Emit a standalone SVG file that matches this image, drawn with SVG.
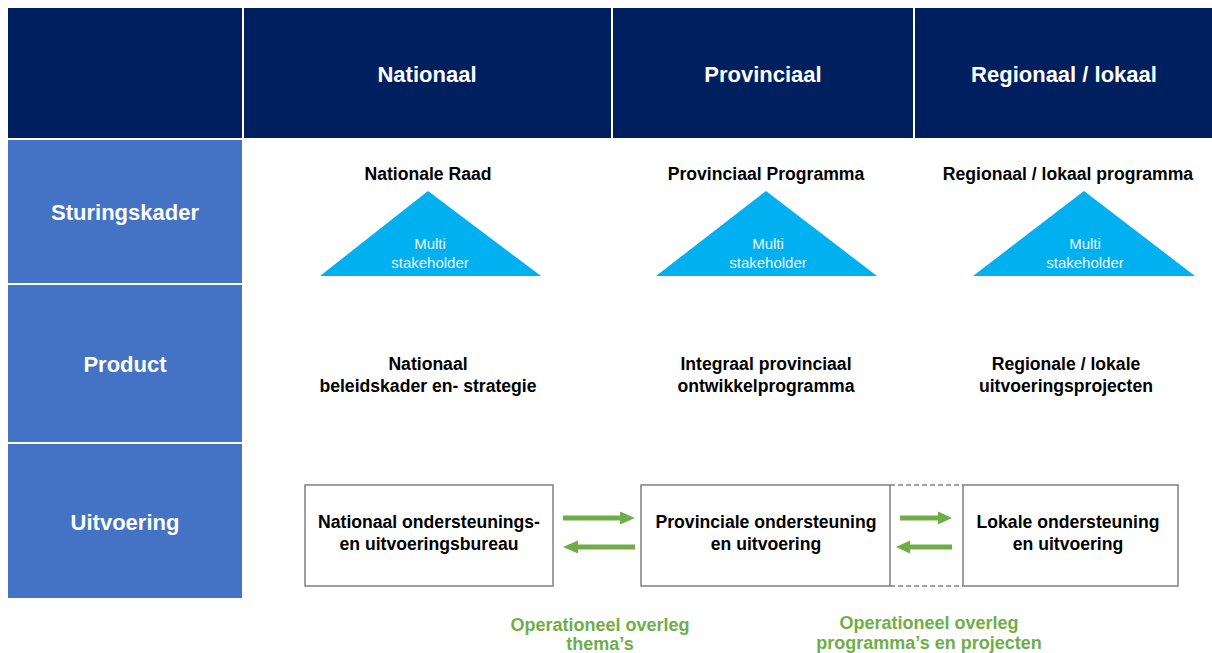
<svg xmlns="http://www.w3.org/2000/svg" width="1212" height="653" viewBox="0 0 1212 653">
<defs>
<style>
.hdr{fill:#001F5F}
.row{fill:#4472C4}
.tri{fill:#00B0F0}
.box{fill:#FFFFFF;stroke:#808080;stroke-width:1.5}
.dash{stroke:#808080;stroke-width:1.5;stroke-dasharray:5 3;fill:none}
.arr{fill:#70AD47}
text{font-family:"Liberation Sans",Arial,sans-serif;text-anchor:middle}
.ht{font-size:22px;font-weight:bold;fill:#FFFFFF}
.lt{font-size:17.6px;font-weight:bold;fill:#000000}
.ms{font-size:15px;fill:#EAF6FF}
.gt{font-size:18px;font-weight:bold;fill:#70AD47}
</style>
</defs>
<rect width="1212" height="653" fill="#FFFFFF"/>
<g id="header">
<rect class="hdr" x="8" y="8" width="234" height="130"/>
<rect class="hdr" x="244" y="8" width="367" height="130"/>
<rect class="hdr" x="613" y="8" width="300" height="130"/>
<rect class="hdr" x="915" y="8" width="297" height="130"/>
<text class="ht" x="427" y="82">Nationaal</text>
<text class="ht" x="763" y="82">Provinciaal</text>
<text class="ht" x="1064" y="82">Regionaal / lokaal</text>
</g>
<g id="row-sturingskader">
<rect class="row" x="8" y="140" width="234" height="143"/>
<text class="ht" x="125" y="220">Sturingskader</text>
</g>
<g id="row-product">
<rect class="row" x="8" y="285" width="234" height="157"/>
<text class="ht" x="125" y="372">Product</text>
</g>
<g id="row-uitvoering">
<rect class="row" x="8" y="444" width="234" height="154"/>
<text class="ht" x="125" y="530">Uitvoering</text>
</g>
<g id="nationale-raad">
<text class="lt" x="428" y="180">Nationale Raad</text>
<polygon class="tri" points="428,191 541,276 320,276"/>
<text class="ms" x="430" y="249">Multi</text>
<text class="ms" x="430" y="268">stakeholder</text>
</g>
<g id="provinciaal-programma">
<text class="lt" x="766" y="180">Provinciaal Programma</text>
<polygon class="tri" points="766,191 877,276 656,276"/>
<text class="ms" x="768" y="249">Multi</text>
<text class="ms" x="768" y="268">stakeholder</text>
</g>
<g id="regionaal-programma">
<text class="lt" x="1068" y="180">Regionaal / lokaal programma</text>
<polygon class="tri" points="1084,191 1195,276 973,276"/>
<text class="ms" x="1085" y="249">Multi</text>
<text class="ms" x="1085" y="268">stakeholder</text>
</g>
<g id="product-nationaal">
<text class="lt" x="428" y="370">Nationaal</text>
<text class="lt" x="428" y="392">beleidskader en- strategie</text>
</g>
<g id="product-provinciaal">
<text class="lt" x="766" y="370">Integraal provinciaal</text>
<text class="lt" x="766" y="392">ontwikkelprogramma</text>
</g>
<g id="product-regionaal">
<text class="lt" x="1066" y="370">Regionale / lokale</text>
<text class="lt" x="1066" y="392">uitvoeringsprojecten</text>
</g>
<g id="box-nationaal">
<rect class="box" x="305" y="485" width="248" height="101"/>
<text class="lt" x="429" y="528">Nationaal ondersteunings-</text>
<text class="lt" x="429" y="550">en uitvoeringsbureau</text>
</g>
<g id="box-provinciaal">
<rect class="box" x="641" y="485" width="249" height="101"/>
<text class="lt" x="766" y="528">Provinciale ondersteuning</text>
<text class="lt" x="766" y="550">en uitvoering</text>
</g>
<g id="box-lokaal">
<rect class="box" x="963" y="485" width="215" height="101"/>
<text class="lt" x="1068" y="528">Lokale ondersteuning</text>
<text class="lt" x="1068" y="550">en uitvoering</text>
</g>
<g id="connectors">
<line class="dash" x1="890" y1="485" x2="963" y2="485"/>
<line class="dash" x1="890" y1="586" x2="963" y2="586"/>
<polygon class="arr" points="563,515.5 620,515.5 620,511.5 635,518 620,524.5 620,520.5 563,520.5"/>
<polygon class="arr" points="635,544.5 578,544.5 578,540.5 563,547 578,553.5 578,549.5 635,549.5"/>
<polygon class="arr" points="900,515.5 938,515.5 938,511.5 952,518 938,524.5 938,520.5 900,520.5"/>
<polygon class="arr" points="952,544.5 910,544.5 910,540.5 896,547 910,553.5 910,549.5 952,549.5"/>
</g>
<g id="labels">
<text class="gt" x="600" y="631">Operationeel overleg</text>
<text class="gt" x="600" y="650">thema’s</text>
<text class="gt" x="929" y="629">Operationeel overleg</text>
<text class="gt" x="929" y="649">programma’s en projecten</text>
</g>
</svg>
